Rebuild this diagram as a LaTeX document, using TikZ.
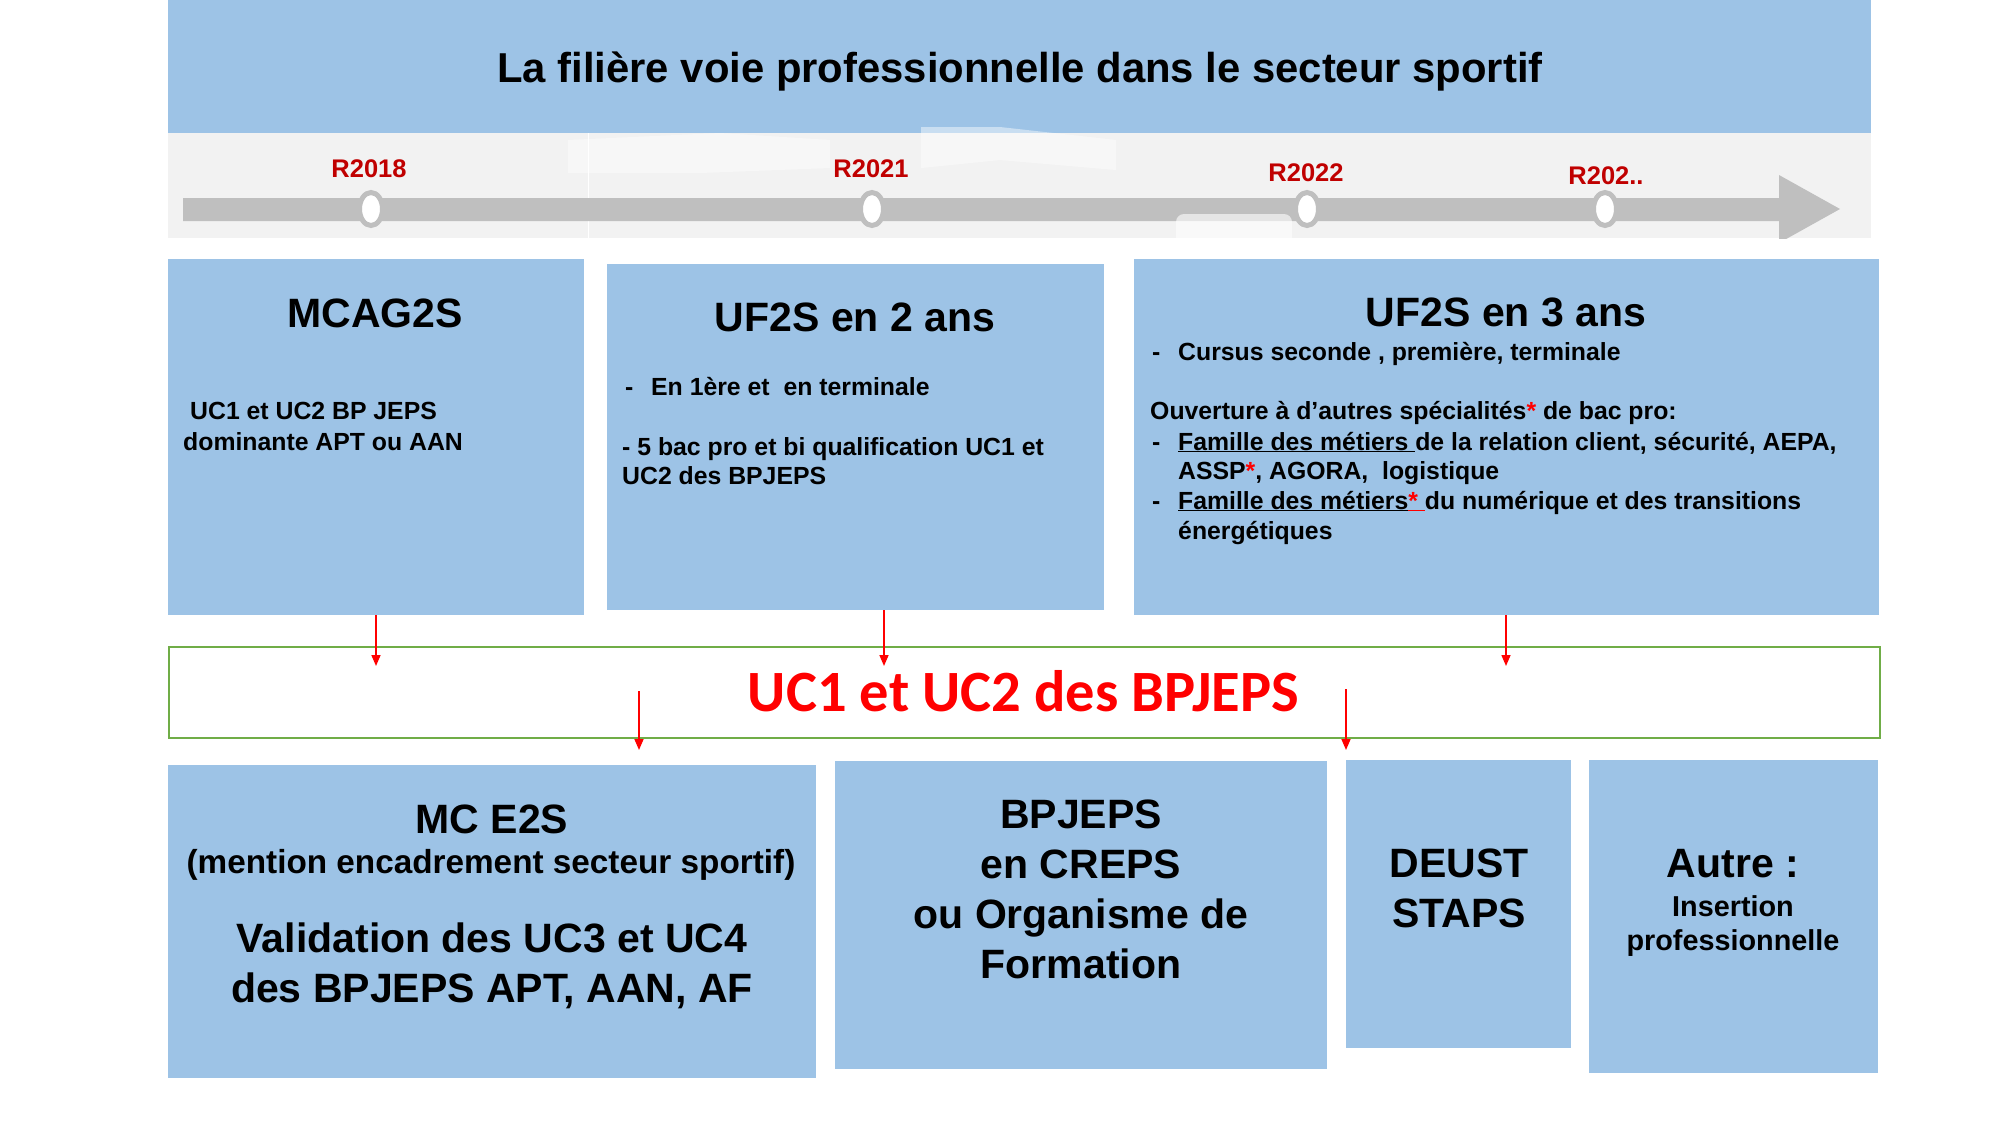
\documentclass[tikz,border=0pt]{standalone}
\usepackage{fontspec}
\setmainfont{Liberation Sans}
\newfontfamily\calib{Carlito}
\usetikzlibrary{arrows.meta}
\definecolor{boxblue}{HTML}{9DC3E6}
\definecolor{bandgray}{HTML}{F2F2F2}
\definecolor{bargray}{HTML}{BFBFBF}
\definecolor{darkred}{HTML}{C00000}
\definecolor{greenline}{HTML}{70AD47}
\definecolor{brightred}{HTML}{FF0000}
\tikzset{
  bluebox/.style={fill=boxblue, draw=none, inner sep=0, anchor=north west},
  hd/.style={font=\fontsize{41}{49}\selectfont\bfseries, inner sep=0, anchor=base},
  bd/.style={font=\fontsize{24.8}{29.8}\selectfont\bfseries, inner sep=0, anchor=base west},
  yearlbl/.style={font=\fontsize{25.5}{30}\selectfont\bfseries, text=darkred, inner sep=0, anchor=base},
  redarrow/.style={draw=brightred, line width=1.6pt, -{Triangle[length=11pt,width=9pt]}},
}
\begin{document}
\begin{tikzpicture}[x=1pt,y=-1pt]
\useasboundingbox (0,0) rectangle (2000,1125);
% header
\node[bluebox, minimum width=1703pt, minimum height=133pt] (header) at (168,0) {};
\node[font=\fontsize{41.8}{49}\selectfont\bfseries, inner sep=0, anchor=base] (title) at (1020,82) {La filière voie professionnelle dans le secteur sportif};
% timeline band
\node[fill=bandgray, inner sep=0, anchor=north west, minimum width=1703pt, minimum height=105pt] (band) at (168,133) {};
\fill[white, opacity=0.45] (568,140) -- (720,133) -- (830,140) -- (830,168) -- (700,173) -- (568,173) -- cycle;
\fill[white, opacity=0.45] (921,127) -- (1000,127) -- (1116,140) -- (1116,170) -- (1000,160) -- (921,168) -- cycle;
\draw[white, line width=0.8pt] (588,133) -- (588,238);
\begin{scope}
\clip (168,133) rectangle (1871,238);
\fill[bargray] (183,198) -- (1779,198) -- (1779,175) -- (1840,209) -- (1779,243) -- (1779,221) -- (183,221) -- cycle;
\end{scope}
\fill[white, opacity=0.6, rounded corners=8pt] (1176,214) rectangle (1292,266);
% milestones
\foreach \n/\x in {m1/371, m2/872, m3/1307, m4/1605}{
  \coordinate (\n) at (\x,209);
  \draw[draw=bargray, fill=white, line width=5pt] (\n) ellipse [x radius=11.5, y radius=16.5];
}
\node[yearlbl] (y1) at (369,177) {R2018};
\node[yearlbl] (y2) at (871,177) {R2021};
\node[yearlbl] (y3) at (1306,181) {R2022};
\node[yearlbl] (y4) at (1606,184) {R202..};
% top row boxes
\node[bluebox, minimum width=416pt, minimum height=356pt] (mcag) at (168,259) {};
\node[bluebox, minimum width=497pt, minimum height=346pt] (uf2) at (607,264) {};
\node[bluebox, minimum width=745pt, minimum height=356pt] (uf3) at (1134,259) {};
\node[hd] (mcagT) at (375,327) {MCAG2S};
\node[bd] (mcagA) at (190,419) {UC1 et UC2 BP JEPS};
\node[bd] (mcagB) at (183,450) {dominante APT ou AAN};
\node[hd] (uf2T) at (855,331) {UF2S en 2 ans};
\node[bd] (uf2d1) at (625,395) {-};
\node[bd] (uf2A) at (651,395) {En 1ère et~ en terminale};
\node[bd] (uf2B) at (622,455) {- 5 bac pro et bi qualification UC1 et};
\node[bd] (uf2C) at (622,484) {UC2 des BPJEPS};
\node[hd] (uf3T) at (1506,326) {UF2S en 3 ans};
\node[bd] (uf3d1) at (1152,360) {-};
\node[bd] (uf3A) at (1178,360) {Cursus seconde , première, terminale};
\node[bd] (uf3B) at (1150,419) {Ouverture à d’autres spécialités\textcolor{brightred}{*} de bac pro:};
\node[bd] (uf3d2) at (1152,450) {-};
\node[bd] (uf3C) at (1178,450) {\underline{Famille des métiers }de la relation client, sécurité, AEPA,};
\node[bd] (uf3D) at (1178,479) {ASSP\textcolor{brightred}{*}, AGORA,~ logistique};
\node[bd] (uf3d3) at (1152,509) {-};
\node[bd] (uf3E) at (1178,509) {\underline{Famille des métiers}\textcolor{brightred}{\underline{*\ }}du numérique et des transitions};
\node[bd] (uf3F) at (1178,539) {énergétiques};
% green box
\node[draw=greenline, line width=2pt, fill=white, inner sep=0, anchor=north west, minimum width=1711pt, minimum height=91pt] (green) at (168,646) {};
\node[font=\calib\fontsize{58.5}{66}\selectfont\bfseries, text=brightred, inner sep=0, anchor=base] (uc) at (1023.5,711) {UC1 et UC2 des BPJEPS};
% bottom row
\node[bluebox, minimum width=648pt, minimum height=313pt] (mce) at (168,765) {};
\node[bluebox, minimum width=492pt, minimum height=308pt] (bpj) at (835,761) {};
\node[bluebox, minimum width=225pt, minimum height=288pt] (deust) at (1346,760) {};
\node[bluebox, minimum width=289pt, minimum height=313pt] (autre) at (1589,760) {};
\node[hd] (mceT) at (492,833) {MC E2S};
\node[font=\fontsize{33.3}{40}\selectfont\bfseries, inner sep=0, anchor=base] (mceA) at (491,873) {(mention encadrement secteur sportif)};
\node[hd] (mceB) at (492,952) {Validation des UC3 et UC4};
\node[hd] (mceC) at (492,1002) {des BPJEPS APT, AAN, AF};
\node[hd] (bpjA) at (1081,828) {BPJEPS};
\node[hd] (bpjB) at (1081,878) {en CREPS};
\node[hd] (bpjC) at (1081,928) {ou Organisme de};
\node[hd] (bpjD) at (1081,978) {Formation};
\node[hd] (deA) at (1459,877) {DEUST};
\node[hd] (deB) at (1459,927) {STAPS};
\node[hd] (auA) at (1733,877) {Autre :};
\node[font=\fontsize{28.8}{34}\selectfont\bfseries, inner sep=0, anchor=base] (auB) at (1733,916) {Insertion};
\node[font=\fontsize{28.8}{34}\selectfont\bfseries, inner sep=0, anchor=base] (auC) at (1733,950) {professionnelle};
% arrows
\coordinate (t1) at (376,666);
\coordinate (t2) at (884,666);
\coordinate (t3) at (1506,666);
\coordinate (s4) at (639,691);
\coordinate (t4) at (639,750);
\coordinate (s5) at (1346,689);
\coordinate (t5) at (1346,750);
\draw[redarrow] (mcag.south -| t1) -- (t1);
\draw[redarrow] (uf2.south -| t2) -- (t2);
\draw[redarrow] (uf3.south -| t3) -- (t3);
\draw[redarrow] (s4) -- (t4);
\draw[redarrow] (s5) -- (t5);
\end{tikzpicture}
\end{document}
